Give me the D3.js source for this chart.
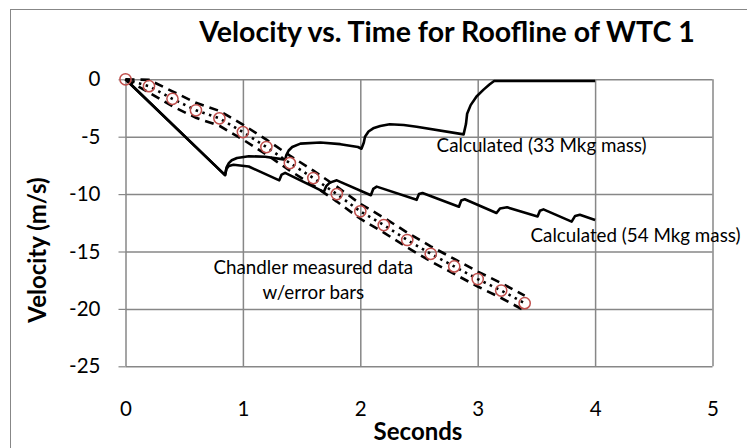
<!DOCTYPE html>
<html>
<head>
<meta charset="utf-8">
<script src="https://cdn.jsdelivr.net/npm/d3@7"></script>
<style>
  body { margin: 0; background: #fff; }
  svg { display: block; font-family: Lato, "Open Sans", sans-serif; }
  .grid line { stroke: #878787; stroke-width: 1.5; }
  .grid path { display: none; }
  .tick text { fill: #000; }
</style>
</head>
<body>
<div class="chart-1"></div>
<script>
// Chandler measured roofline velocity (every 0.2 s) with error bounds
const chandlerT = [0, 0.2, 0.4, 0.6, 0.8, 1.0, 1.2, 1.4, 1.6, 1.8, 2.0, 2.2, 2.4, 2.6, 2.8, 3.0, 3.2, 3.4];
const chandlerV = [0, -0.6, -1.7, -2.7, -3.4, -4.6, -5.9, -7.3, -8.6, -10.0, -11.5, -12.7, -14.0, -15.2, -16.3, -17.4, -18.4, -19.5];
const chandlerUpper = [0, -0.05, -1.05, -2.05, -2.75, -3.95, -5.25, -6.65, -7.95, -9.35, -10.85, -12.05, -13.35, -14.55, -15.65, -16.75, -17.75, -18.85];
const chandlerLower = [0, -1.15, -2.35, -3.35, -4.05, -5.25, -6.55, -7.95, -9.25, -10.65, -12.15, -13.35, -14.65, -15.85, -16.95, -18.05, -19.05, -20.15];

// calculated, 33 Mkg mass
const calc33T = [0, 0.848, 0.86, 0.88, 0.905, 0.95, 1.05, 1.19, 1.36, 1.37, 1.39, 1.42, 1.49, 1.66, 1.83, 1.98, 2.01, 2.03, 2.04, 2.07, 2.11, 2.17, 2.25, 2.37, 2.48, 2.88, 2.9, 2.91, 2.94, 2.99, 3.05, 3.1, 3.14, 4.0];
const calc33V = [0, -8.35, -7.7, -7.3, -7.05, -6.85, -6.7, -6.75, -7.0, -6.6, -6.2, -5.9, -5.6, -5.5, -5.65, -5.9, -6.05, -5.5, -5.0, -4.55, -4.27, -4.07, -3.92, -3.98, -4.13, -4.8, -3.9, -3.0, -2.25, -1.5, -0.9, -0.45, -0.15, -0.15];

// calculated, 54 Mkg mass
const calc54T = [0, 0.848, 0.86, 0.88, 0.92, 1.05, 1.31, 1.33, 1.36, 1.69, 1.71, 1.74, 1.8, 2.09, 2.11, 2.14, 2.48, 2.5, 2.53, 2.84, 2.86, 2.89, 3.16, 3.19, 3.25, 3.51, 3.53, 3.56, 3.8, 3.83, 3.87, 4.0];
const calc54V = [0, -8.35, -7.8, -7.55, -7.45, -7.6, -8.8, -8.3, -8.15, -9.8, -9.3, -9.0, -8.8, -10.1, -9.55, -9.35, -10.5, -10.0, -9.9, -11.1, -10.55, -10.45, -11.65, -11.25, -11.15, -11.95, -11.45, -11.33, -12.4, -11.9, -11.8, -12.25];

const xTicks = [0, 1, 2, 3, 4, 5];
const yTicks = [0, -5, -10, -15, -20, -25];

// text notes, placed in data units
const notes = [
  { text: "Calculated (33 Mkg mass)", t: 2.65, v: -6.3, anchor: "start" },
  { text: "Calculated (54 Mkg mass)", t: 3.45, v: -14.2, anchor: "start" },
  { text: "Chandler measured data", t: 1.6, v: -16.95, anchor: "middle" },
  { text: "w/error bars", t: 1.6, v: -19.1, anchor: "middle" }
];

const svg = d3.select(".chart-1")
  .append("svg")
  .attr("width", 747)
  .attr("height", 448);

const margin = { top: 79.3, right: 34.5, bottom: 81.7, left: 125.5 };
const width = 747 - margin.left - margin.right;
const height = 448 - margin.top - margin.bottom;

// chart area border (runs off the right and bottom)
svg.append("rect")
  .attr("x", 10.5).attr("y", 9.5)
  .attr("width", 760).attr("height", 460)
  .attr("fill", "none")
  .attr("stroke", "#878787");

svg.append("text")
  .text("Velocity vs. Time for Roofline of WTC 1")
  .attr("x", 447).attr("y", 42)
  .attr("text-anchor", "middle")
  .attr("font-weight", "bold")
  .attr("font-size", 28.5);

const chart = svg.append("g")
  .attr("transform", `translate(${margin.left},${margin.top})`);

const x = d3.scaleLinear().domain([0, 5]).range([0, width]);
const y = d3.scaleLinear().domain([-25, 0]).range([height, 0]);

// gridlines
chart.append("g").attr("class", "grid")
  .call(d3.axisBottom(x).tickValues(xTicks).tickSize(height).tickFormat(""));
chart.append("g").attr("class", "grid")
  .call(d3.axisLeft(y).tickValues(yTicks).tickSize(-width).tickFormat(""));

const fmt = d => String(d); // plain hyphen minus like the original

// y axis ticks and labels
const yAxis = chart.append("g")
  .call(d3.axisLeft(y).tickValues(yTicks).tickSize(7).tickPadding(18).tickFormat(fmt));
yAxis.select(".domain").remove();
yAxis.selectAll("line").attr("stroke", "#878787").attr("stroke-width", 1.2);
yAxis.selectAll("text").attr("font-size", 20.5).attr("font-family", "Lato");

// x axis labels sit low, under the plot
const xAxis = chart.append("g")
  .attr("transform", `translate(0,${height})`)
  .call(d3.axisBottom(x).tickValues(xTicks).tickSize(0).tickPadding(35).tickFormat(fmt));
xAxis.select(".domain").remove();
xAxis.selectAll("text").attr("font-size", 20.5).attr("font-family", "Lato");

svg.append("text")
  .text("Seconds")
  .attr("x", 418).attr("y", 440)
  .attr("text-anchor", "middle")
  .attr("font-weight", "bold")
  .attr("font-size", 24);

svg.append("text")
  .text("Velocity (m/s)")
  .attr("transform", "translate(46,250) rotate(-90)")
  .attr("text-anchor", "middle")
  .attr("font-weight", "bold")
  .attr("font-size", 24);

const line = d3.line()
  .x(d => x(d[0]))
  .y(d => y(d[1]));

const pairs = (ts, vs) => ts.map((t, i) => [t, vs[i]]);

chart.append("path")
  .datum(pairs(calc54T, calc54V))
  .attr("d", line)
  .attr("fill", "none")
  .attr("stroke", "#000")
  .attr("stroke-width", 2.6)
  .attr("stroke-linejoin", "round");

chart.append("path")
  .datum(pairs(calc33T, calc33V))
  .attr("d", line)
  .attr("fill", "none")
  .attr("stroke", "#000")
  .attr("stroke-width", 2.6)
  .attr("stroke-linejoin", "round");

[chandlerUpper, chandlerLower].forEach(bound => {
  chart.append("path")
    .datum(pairs(chandlerT, bound))
    .attr("d", line)
    .attr("fill", "none")
    .attr("stroke", "#000")
    .attr("stroke-width", 2.6)
    .attr("stroke-dasharray", "9,6");
});

chart.append("path")
  .datum(pairs(chandlerT, chandlerV))
  .attr("d", line)
  .attr("fill", "none")
  .attr("stroke", "#000")
  .attr("stroke-width", 2.6)
  .attr("stroke-dasharray", "2.5,4.5");

chart.selectAll("circle.meas")
  .data(pairs(chandlerT, chandlerV))
  .join("circle")
  .attr("class", "meas")
  .attr("cx", d => x(d[0]))
  .attr("cy", d => y(d[1]))
  .attr("r", 5.6)
  .attr("fill", "none")
  .attr("stroke", "#c0504d")
  .attr("stroke-width", 1.5);

chart.selectAll("text.note")
  .data(notes)
  .join("text")
  .attr("class", "note")
  .text(d => d.text)
  .attr("x", d => x(d.t))
  .attr("y", d => y(d.v))
  .attr("text-anchor", d => d.anchor)
  .attr("font-size", 18.8);
</script>
</body>
</html>
